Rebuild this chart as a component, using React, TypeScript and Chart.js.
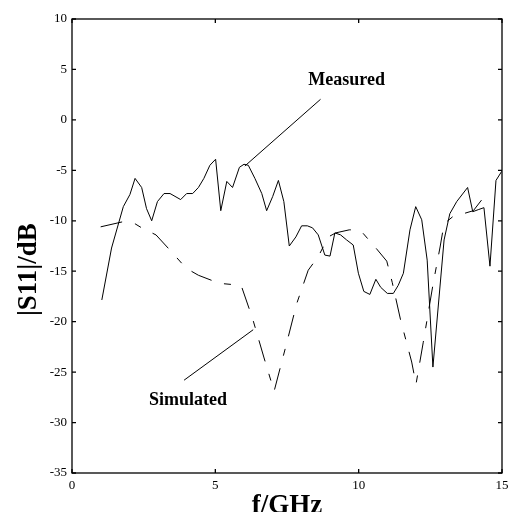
import React, { useEffect, useRef } from "react";
import { Chart, registerables } from "chart.js";

Chart.register(...registerables);

// Measured |S11| (solid line)
const freqMeasured = [
  1.04, 1.38, 1.79, 2.02, 2.2, 2.43, 2.6, 2.78, 2.98, 3.21,
  3.42, 3.79, 4.0, 4.21, 4.41, 4.6, 4.81, 5.01, 5.19, 5.4,
  5.6, 5.84, 6.0, 6.15, 6.38, 6.62, 6.79, 7.0, 7.2, 7.39,
  7.58, 7.81, 8.01, 8.21, 8.39, 8.59, 8.82, 9.0, 9.17, 9.37,
  9.58, 9.81, 9.99, 10.18, 10.39, 10.6, 10.77, 11.0, 11.21, 11.38,
  11.56, 11.79, 11.99, 12.2, 12.39, 12.59, 12.98, 13.18, 13.42, 13.8,
  13.98, 14.17, 14.37, 14.58, 14.79, 14.99,
];
const s11Measured = [
  -17.85, -12.7, -8.6, -7.4, -5.8, -6.7, -8.8, -10.0, -8.1, -7.3,
  -7.3, -7.9, -7.3, -7.3, -6.7, -5.8, -4.5, -3.9, -9.0, -6.1,
  -6.7, -4.7, -4.4, -4.5, -5.8, -7.3, -9.0, -7.6, -6.0, -8.1,
  -12.5, -11.6, -10.5, -10.5, -10.7, -11.4, -13.4, -13.5, -11.2, -11.4,
  -11.9, -12.4, -15.2, -17.0, -17.3, -15.8, -16.6, -17.2, -17.2, -16.4,
  -15.2, -10.9, -8.6, -9.9, -13.9, -24.5, -11.9, -9.3, -8.1, -6.7,
  -9.1, -8.9, -8.7, -14.5, -6.0, -5.1,
];

// Simulated |S11| (dash-dot line)
const freqSimulated = [
  1.0, 1.77, 2.2, 2.43, 2.93, 3.48, 3.98, 4.41, 5.14, 5.9,
  6.3, 6.7, 7.05, 7.5, 7.84, 8.24, 8.6, 8.94, 9.2, 9.67,
  9.9, 10.14, 10.63, 10.98, 11.17, 11.46, 11.85, 12.0, 12.25, 12.6,
  12.84, 12.98, 13.28, 13.53, 14.0, 14.49,
];
const s11Simulated = [
  -10.6, -10.1, -10.3, -10.7, -11.4, -13.1, -14.7, -15.4, -16.2, -16.4,
  -19.7, -23.6, -26.9, -22.0, -18.2, -14.9, -13.5, -11.6, -11.2, -10.9,
  -10.9, -11.2, -12.8, -14.0, -16.1, -19.8, -24.0, -26.2, -22.1, -16.2,
  -12.6, -10.3, -9.6, -9.4, -9.0, -7.2,
];

const xTicks = [0, 5, 10, 15];
const yTicks = [-35, -30, -25, -20, -15, -10, -5, 0, 5, 10];

// Annotations in data units: label position and pointer line [from, to]
const annotations = [
  { text: "Measured", at: [9.58, 3.95], line: [[8.67, 2.04], [6.03, -4.57]] },
  { text: "Simulated", at: [4.05, -27.8], line: [[6.32, -20.8], [3.91, -25.8]] },
];

const FONT = "'Liberation Serif', 'Times New Roman', serif";

const framePlugin = {
  id: "frame",
  afterDraw(chart: any) {
    const { ctx, chartArea, scales } = chart;
    const { left, right, top, bottom } = chartArea;
    const x = scales.x;
    const y = scales.y;
    ctx.save();
    ctx.strokeStyle = "#000";
    ctx.lineWidth = 1.3;
    ctx.strokeRect(left, top, right - left, bottom - top);
    const tl = 4;
    ctx.beginPath();
    xTicks.forEach((v) => {
      const px = x.getPixelForValue(v);
      ctx.moveTo(px, bottom);
      ctx.lineTo(px, bottom - tl);
      ctx.moveTo(px, top);
      ctx.lineTo(px, top + tl);
    });
    yTicks.forEach((v) => {
      const py = y.getPixelForValue(v);
      ctx.moveTo(left, py);
      ctx.lineTo(left + tl, py);
      ctx.moveTo(right, py);
      ctx.lineTo(right - tl, py);
    });
    ctx.stroke();

    ctx.lineWidth = 1;
    ctx.fillStyle = "#000";
    ctx.font = `bold 18px ${FONT}`;
    ctx.textAlign = "center";
    ctx.textBaseline = "middle";
    annotations.forEach((a) => {
      ctx.beginPath();
      ctx.moveTo(x.getPixelForValue(a.line[0][0]), y.getPixelForValue(a.line[0][1]));
      ctx.lineTo(x.getPixelForValue(a.line[1][0]), y.getPixelForValue(a.line[1][1]));
      ctx.stroke();
      ctx.fillText(a.text, x.getPixelForValue(a.at[0]), y.getPixelForValue(a.at[1]));
    });
    ctx.restore();
  },
};

export default function App() {
  const canvasRef = useRef<HTMLCanvasElement | null>(null);

  useEffect(() => {
    const canvas = canvasRef.current;
    if (!canvas) return;
    const chart = new Chart(canvas, {
      type: "line",
      data: {
        datasets: [
          {
            label: "Measured",
            data: freqMeasured.map((f, i) => ({ x: f, y: s11Measured[i] })),
            borderColor: "#000",
            borderWidth: 1,
            pointRadius: 0,
            tension: 0,
            fill: false,
          },
          {
            label: "Simulated",
            data: freqSimulated.map((f, i) => ({ x: f, y: s11Simulated[i] })),
            borderColor: "#000",
            borderWidth: 1,
            borderDash: [22, 13, 7, 13],
            pointRadius: 0,
            tension: 0,
            fill: false,
          },
        ],
      },
      options: {
        responsive: false,
        animation: false,
        events: [],
        layout: { padding: { left: 0, top: 19, right: 16, bottom: 0 } },
        plugins: {
          legend: { display: false },
          tooltip: { enabled: false },
          title: { display: false },
        },
        scales: {
          x: {
            type: "linear",
            min: 0,
            max: 15,
            afterBuildTicks: (s: any) => {
              s.ticks = xTicks.map((v) => ({ value: v }));
            },
            afterFit: (s: any) => {
              s.height = 39;
            },
            grid: { display: false, drawTicks: false },
            border: { display: false },
            ticks: {
              color: "#000",
              padding: 5,
              maxRotation: 0,
              font: { family: FONT, size: 13 },
            },
            title: {
              display: true,
              text: "f/GHz",
              color: "#000",
              padding: 0,
              font: { family: FONT, size: 27, weight: "bold", lineHeight: 0.45 },
            },
          },
          y: {
            type: "linear",
            min: -35,
            max: 10,
            afterBuildTicks: (s: any) => {
              s.ticks = yTicks.map((v) => ({ value: v }));
            },
            afterFit: (s: any) => {
              s.width = 72;
            },
            grid: { display: false, drawTicks: false },
            border: { display: false },
            ticks: {
              color: "#000",
              padding: 5,
              font: { family: FONT, size: 13 },
            },
            title: {
              display: true,
              text: "|S11|/dB       ",
              color: "#000",
              padding: { top: 15.5, bottom: 0 },
              font: { family: FONT, size: 27, weight: "bold", lineHeight: 1 },
            },
          },
        },
      },
      plugins: [framePlugin],
    });
    return () => chart.destroy();
  }, []);

  return (
    <div
      style={{
        position: "fixed",
        left: 0,
        top: 0,
        width: 518,
        height: 512,
        background: "#fff",
      }}
    >
      <canvas ref={canvasRef} width={518} height={512} style={{ display: "block" }} />
    </div>
  );
}
